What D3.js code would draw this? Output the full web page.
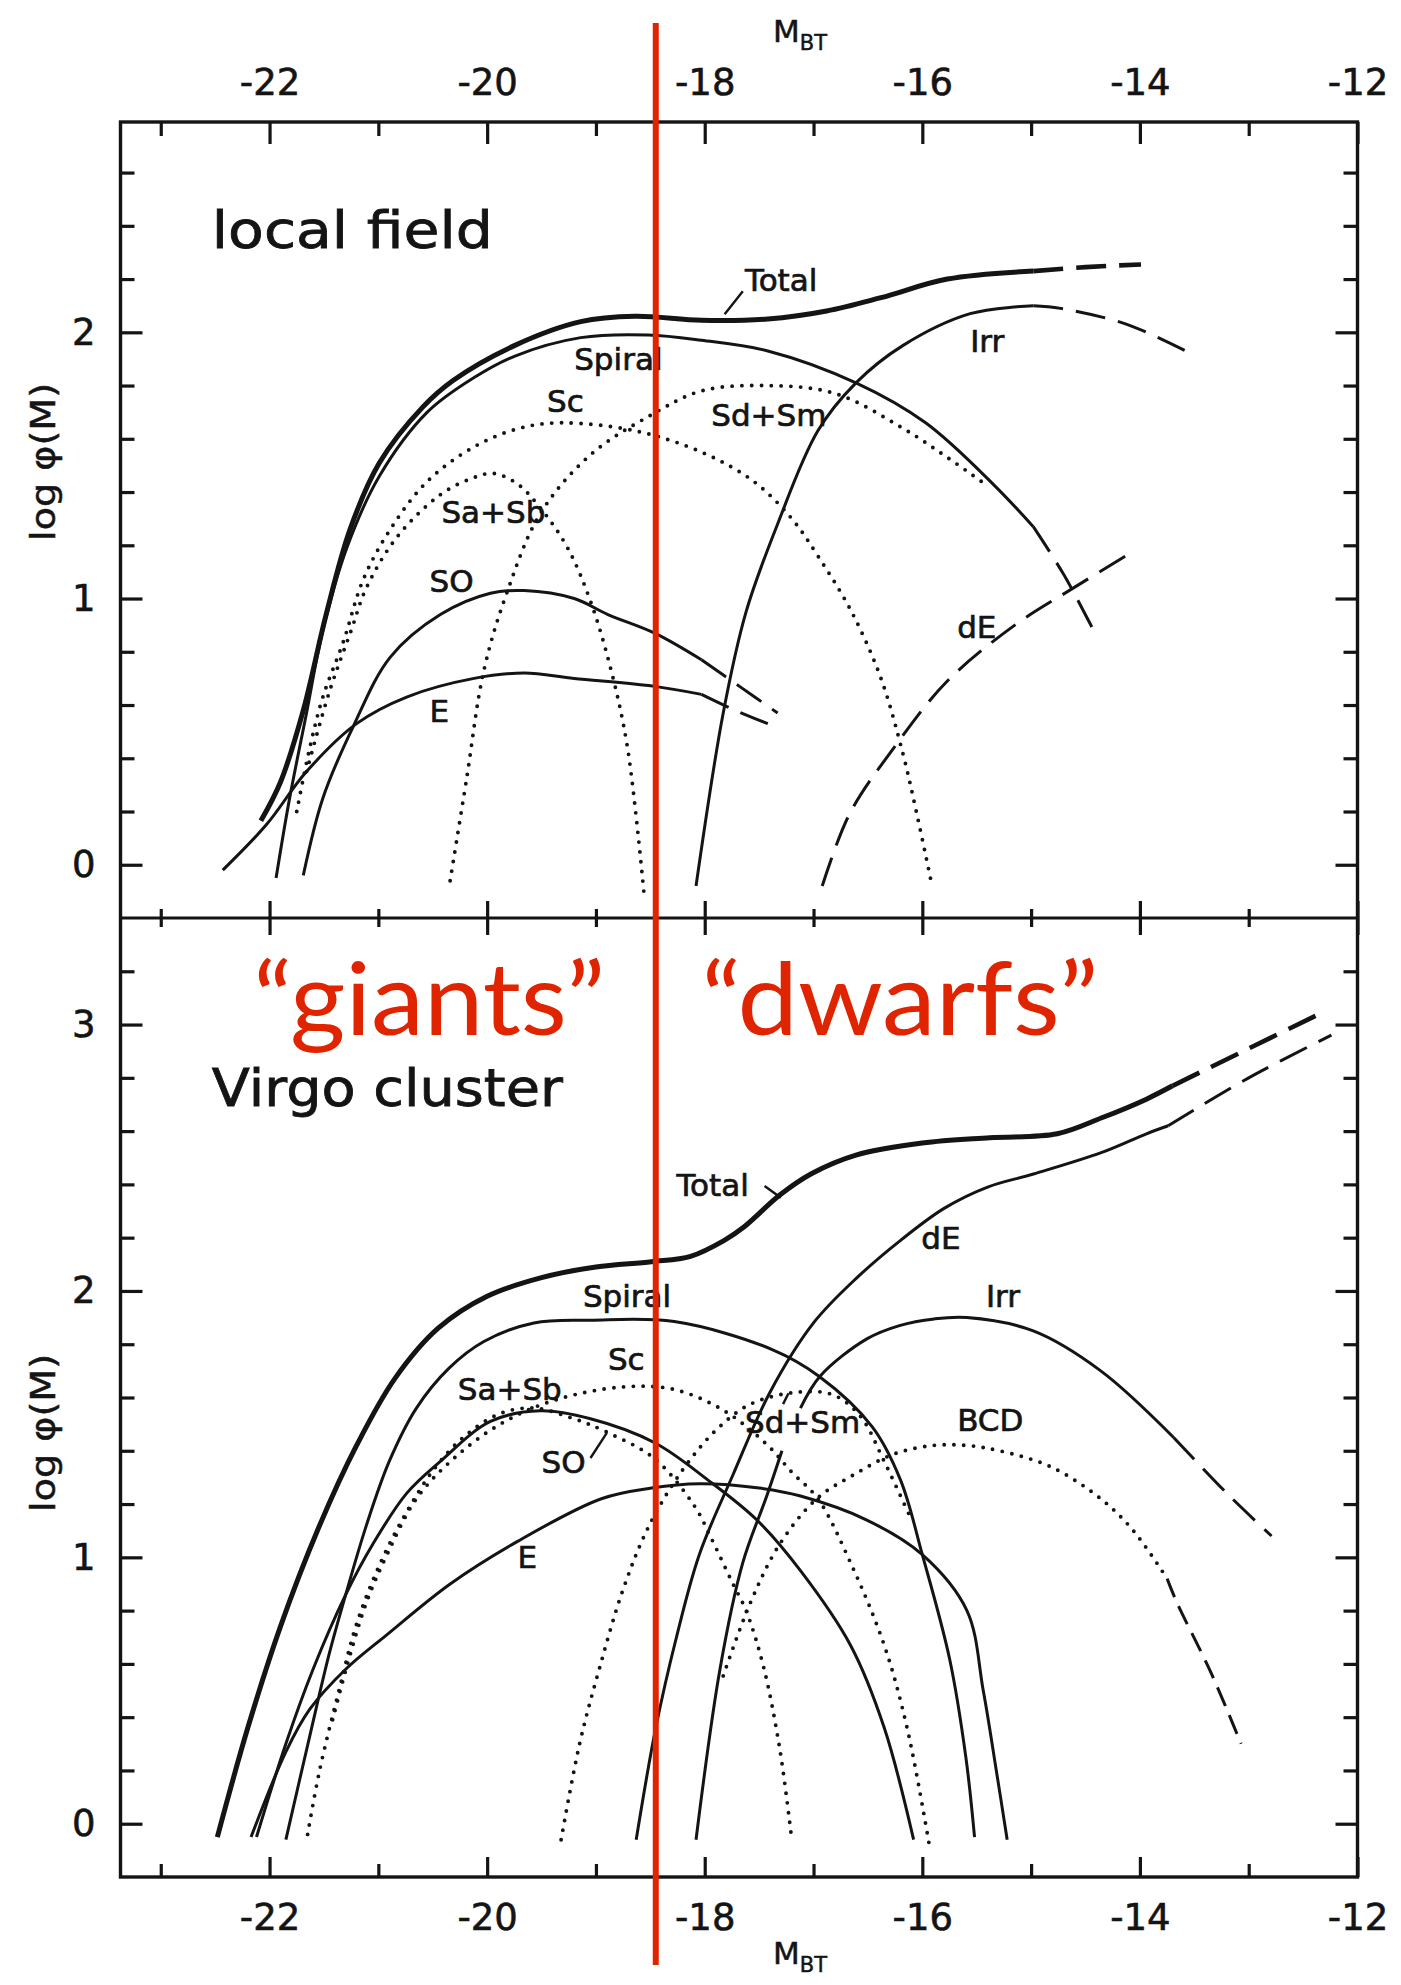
<!DOCTYPE html>
<html><head><meta charset="utf-8">
<script src="https://cdn.jsdelivr.net/npm/d3@7"></script>
<style>
html,body{margin:0;padding:0;background:#fff;}
svg{display:block;}
</style></head>
<body>
<svg id="chart" width="1401" height="1985"></svg>
<script>
// ---------------- DATA (M_BT, log phi) ----------------
const xTicksMajor = [-22, -20, -18, -16, -14, -12];
const xTicksMinor = [-23, -21, -19, -17, -15, -13];
const yTopMajor = [0, 1, 2];
const yTopMinor = [0.2, 0.4, 0.6, 0.8, 1.2, 1.4, 1.6, 1.8, 2.2, 2.4, 2.6];
const yBotMajor = [0, 1, 2, 3];
const yBotMinor = [0.2, 0.4, 0.6, 0.8, 1.2, 1.4, 1.6, 1.8, 2.2, 2.4, 2.6, 2.8, 3.2];

// local field
const fieldTotal = [[-22.08,0.165],[-21.90,0.31],[-21.69,0.58],[-21.48,0.94],[-21.26,1.26],[-20.99,1.51],[-20.59,1.72],[-20.31,1.82],[-19.75,1.95],[-19.14,2.04],[-18.64,2.06],[-18.03,2.045],[-17.42,2.05],[-16.88,2.08],[-16.38,2.13],[-15.77,2.20],[-14.98,2.23]];
const fieldTotalDash = [[-14.98,2.23],[-14.5,2.245],[-13.99,2.255]];
const fieldSpiral = [[-21.94,-0.05],[-21.82,0.24],[-21.66,0.57],[-21.51,0.88],[-21.29,1.19],[-20.99,1.46],[-20.55,1.70],[-20.12,1.83],[-19.75,1.91],[-19.14,1.98],[-18.52,1.99],[-18.03,1.97],[-17.42,1.93],[-16.61,1.81],[-15.97,1.66],[-15.35,1.43],[-14.98,1.27]];
const fieldSpiralDash = [[-14.98,1.27],[-14.70,1.09],[-14.40,0.86]];
const fieldSc = [[-21.75,0.20],[-21.63,0.44],[-21.51,0.63],[-21.32,0.84],[-21.14,1.07],[-20.89,1.26],[-20.55,1.44],[-20.12,1.57],[-19.70,1.64],[-19.32,1.66],[-18.64,1.63],[-18.03,1.55],[-17.55,1.44],[-17.20,1.30],[-16.96,1.16],[-16.65,0.95],[-16.38,0.70],[-16.18,0.42],[-16.05,0.19],[-15.91,-0.08]];
const fieldSaSb = [[-21.66,0.35],[-21.45,0.65],[-21.25,0.88],[-21.11,1.04],[-20.83,1.23],[-20.43,1.39],[-20.15,1.45],[-19.94,1.47],[-19.72,1.43],[-19.51,1.34],[-19.26,1.19],[-19.05,0.99],[-18.86,0.73],[-18.71,0.44],[-18.56,-0.10]];
const fieldSdSm = [[-20.34,-0.06],[-20.19,0.32],[-20.03,0.73],[-19.82,1.02],[-19.51,1.32],[-19.05,1.54],[-18.49,1.69],[-18.03,1.78],[-17.42,1.80],[-16.80,1.77],[-16.18,1.64],[-15.77,1.53],[-15.39,1.42]];
const fieldS0 = [[-21.69,-0.04],[-21.51,0.25],[-21.23,0.52],[-20.89,0.78],[-20.43,0.94],[-19.97,1.02],[-19.66,1.03],[-19.20,1.00],[-18.89,0.94],[-18.46,0.87],[-18.03,0.77]];
const fieldS0Dash = [[-18.03,0.77],[-17.68,0.67],[-17.33,0.57]];
const fieldE = [[-22.43,-0.02],[-22.03,0.15],[-21.66,0.35],[-21.20,0.53],[-20.74,0.63],[-20.12,0.70],[-19.66,0.72],[-19.20,0.70],[-18.46,0.67],[-18.03,0.64]];
const fieldEDash = [[-18.03,0.64],[-17.72,0.58],[-17.42,0.53]];
const fieldIrr = [[-18.08,-0.08],[-17.83,0.57],[-17.62,0.95],[-17.33,1.28],[-16.96,1.63],[-16.61,1.81],[-16.18,1.95],[-15.56,2.07],[-14.98,2.10]];
const fieldIrrDash = [[-14.98,2.10],[-14.73,2.09],[-14.12,2.03],[-13.58,1.93]];
const fielddE = [[-16.92,-0.08],[-16.67,0.19],[-16.26,0.44],[-15.77,0.69],[-15.15,0.90],[-14.61,1.04],[-14.05,1.18]];

// Virgo cluster
const virgoTotal = [[-22.48,-0.05],[-22.2,0.36],[-21.9,0.74],[-21.55,1.11],[-21.2,1.42],[-20.85,1.67],[-20.45,1.86],[-20.0,1.98],[-19.5,2.05],[-19.0,2.09],[-18.49,2.11],[-18.13,2.13],[-17.82,2.19],[-17.64,2.24],[-17.31,2.36],[-17.02,2.44],[-16.61,2.51],[-16.0,2.555],[-15.38,2.575],[-14.76,2.59],[-14.35,2.65],[-13.94,2.72],[-13.70,2.77]];
const virgoTotalDash = [[-13.70,2.77],[-13.0,2.91],[-12.30,3.05]];
const virgoSpiral = [[-21.85,-0.06],[-21.63,0.33],[-21.45,0.64],[-21.30,0.86],[-21.11,1.12],[-20.90,1.36],[-20.65,1.56],[-20.35,1.71],[-20.03,1.81],[-19.57,1.88],[-19.05,1.89],[-18.28,1.885],[-17.38,1.78],[-16.95,1.68],[-16.46,1.49],[-16.2,1.29],[-16.0,1.01],[-15.75,0.62],[-15.6,0.25],[-15.52,-0.05]];
const virgoS0 = [[-22.12,-0.05],[-21.85,0.30],[-21.60,0.58],[-21.30,0.86],[-21.05,1.05],[-20.74,1.24],[-20.43,1.36],[-19.97,1.51],[-19.51,1.55],[-19.05,1.52],[-18.46,1.43],[-17.97,1.29],[-17.52,1.14],[-17.12,0.95],[-16.66,0.67],[-16.35,0.36],[-16.08,-0.06]];
const virgoE = [[-22.17,-0.05],[-21.85,0.27],[-21.63,0.43],[-21.30,0.58],[-20.92,0.71],[-20.34,0.90],[-19.72,1.06],[-18.95,1.22],[-18.49,1.26],[-18.05,1.276],[-17.5,1.26],[-17.12,1.23],[-16.51,1.14],[-16.0,1.01],[-15.59,0.80],[-15.44,0.50],[-15.32,0.20],[-15.22,-0.06]];
const virgoSaSb = [[-21.65,-0.04],[-21.54,0.20],[-21.35,0.52],[-21.20,0.75],[-20.98,0.98],[-20.74,1.17],[-20.49,1.33],[-20.22,1.45],[-19.88,1.54],[-19.57,1.56],[-19.2,1.52],[-18.90,1.47],[-18.46,1.37],[-18.09,1.19],[-17.95,1.08],[-17.74,0.90],[-17.62,0.80],[-17.46,0.59],[-17.31,0.28],[-17.20,-0.06]];
const virgoSc = [[-21.42,0.39],[-21.29,0.59],[-21.11,0.83],[-20.92,1.01],[-20.65,1.22],[-20.31,1.37],[-19.88,1.50],[-19.38,1.59],[-18.74,1.64],[-18.28,1.63],[-17.82,1.55],[-17.42,1.42],[-17.20,1.32],[-16.96,1.22],[-16.66,0.98],[-16.35,0.67],[-16.14,0.36],[-15.94,-0.07]];
const virgoSdSm = [[-19.32,-0.06],[-19.15,0.30],[-18.97,0.58],[-18.75,0.88],[-18.51,1.12],[-18.2,1.33],[-17.89,1.48],[-17.58,1.575],[-17.15,1.62],[-16.82,1.61],[-16.57,1.53],[-16.35,1.36],[-16.11,1.15]];
const virgoIrrLow = [[-18.08,-0.06],[-17.86,0.58],[-17.65,0.98],[-17.43,1.23],[-17.29,1.40]];
const virgoIrr = [[-17.12,1.56],[-16.94,1.68],[-16.51,1.82],[-16.21,1.87],[-15.89,1.895],[-15.59,1.90],[-14.98,1.85],[-14.36,1.70],[-13.69,1.45]];
const virgoIrrDash = [[-13.69,1.45],[-13.2,1.24],[-12.79,1.08]];
const virgoBCD = [[-17.83,0.555],[-17.58,0.83],[-17.31,1.05],[-16.97,1.22],[-16.63,1.31],[-16.26,1.388],[-15.9,1.42],[-15.59,1.42],[-15.29,1.40],[-14.82,1.34],[-14.36,1.22],[-14.06,1.10],[-13.75,0.92]];
const virgoBCDDash = [[-13.75,0.92],[-13.66,0.83],[-13.35,0.57],[-13.07,0.30]];
const virgodE = [[-18.63,-0.06],[-18.45,0.36],[-18.26,0.70],[-18.05,1.01],[-17.74,1.31],[-17.4,1.62],[-17.0,1.88],[-16.6,2.05],[-16.2,2.19],[-15.8,2.31],[-15.4,2.39],[-14.97,2.44],[-14.35,2.52],[-13.94,2.59],[-13.74,2.62]];
const virgodEDash = [[-13.74,2.62],[-13.0,2.80],[-12.24,2.96]];

// curve labels: [text, M, log phi]
const fieldLabels = [["Total",-17.63,2.155],["Irr",-15.56,1.927],["Sd+Sm",-17.94,1.648],["dE",-15.68,0.852],["Spiral",-19.20,1.859],["Sc",-19.45,1.70],["Sa+Sb",-20.42,1.284],["SO",-20.53,1.025],["E",-20.53,0.536]];
const virgoLabels = [["Total",-18.26,2.356],["Spiral",-19.12,1.94],["Sc",-18.89,1.705],["Sa+Sb",-20.27,1.592],["SO",-19.50,1.317],["E",-19.72,0.96],["Sd+Sm",-17.63,1.466],["dE",-16.01,2.157],["Irr",-15.415,1.94],["BCD",-15.68,1.475]];
const fieldLeaders = [[[-17.817,2.068],[-17.65,2.154]]];
const virgoLeaders = [[[-17.45,2.394],[-17.30,2.35]],[[-19.05,1.373],[-18.90,1.467]],[[-17.28,1.575],[-17.23,1.616]]];
const panelTitles = ["local field", "Virgo cluster"];
const divideM = -18.45;
const regimeLabels = ["\u201Cgiants\u201D", "\u201Cdwarfs\u201D"];

// ---------------- DRAWING ----------------
const svg = d3.select("#chart");
const X0 = 120.5, X1 = 1357.5, YT = 122, YD = 918, YB = 1877;
const x = d3.scaleLinear().domain([-23.37, -12]).range([X0, X1]);
const yTop = d3.scaleLinear().domain([-0.2, 2.79]).range([YD, YT]);
const yBot = d3.scaleLinear().domain([-0.2, 3.4]).range([YB, YD]);
const INK = "#141414";
const RED = "#e12400";
const numFont = "'DejaVu Sans', 'Liberation Sans', sans-serif";

const styles = {
  solid:  {w: 3.0, dash: null, cap: "butt"},
  thick:  {w: 5.0, dash: null, cap: "butt"},
  dotted: {w: 3.9, dash: "0,9.8", cap: "round"},
  dashed: {w: 3.0, dash: "30,13", cap: "butt"},
  thickDashed: {w: 4.6, dash: "30,13", cap: "butt"},
  shortDashed: {w: 3.0, dash: "20,10", cap: "butt"}
};

function drawCurve(g, data, y, st) {
  const s = styles[st];
  const line = d3.line().x(d => x(d[0])).y(d => y(d[1])).curve(d3.curveCatmullRom.alpha(0.5));
  g.append("path").datum(data).attr("d", line)
    .attr("fill", "none").attr("stroke", INK)
    .attr("stroke-width", s.w).attr("stroke-linecap", s.cap)
    .attr("stroke-linejoin", "round")
    .attr("stroke-dasharray", s.dash);
}

// frame
svg.append("rect").attr("x", X0).attr("y", YT).attr("width", X1 - X0).attr("height", YB - YT)
  .attr("fill", "none").attr("stroke", INK).attr("stroke-width", 3.4);
svg.append("line").attr("x1", X0).attr("x2", X1).attr("y1", YD).attr("y2", YD)
  .attr("stroke", INK).attr("stroke-width", 3.2);

function styleAxis(g) {
  g.select(".domain").remove();
  g.selectAll(".tick line").attr("stroke", INK).attr("stroke-width", 3.2);
  g.selectAll(".tick text").attr("fill", INK).attr("font-family", numFont).attr("font-size", 37)
    .attr("stroke", INK).attr("stroke-width", 0.6);
}
const fmt = d => String(d);

// top x axis
svg.append("g").attr("transform", `translate(0,${YT})`)
  .call(d3.axisTop(x).tickValues(xTicksMajor).tickSize(-22).tickPadding(27).tickFormat(fmt)).call(styleAxis);
svg.append("g").attr("transform", `translate(0,${YT})`)
  .call(d3.axisTop(x).tickValues(xTicksMinor).tickSize(-14).tickFormat("")).call(styleAxis);
// bottom x axis
svg.append("g").attr("transform", `translate(0,${YB})`)
  .call(d3.axisBottom(x).tickValues(xTicksMajor).tickSize(-20).tickPadding(27).tickFormat(fmt)).call(styleAxis);
svg.append("g").attr("transform", `translate(0,${YB})`)
  .call(d3.axisBottom(x).tickValues(xTicksMinor).tickSize(-13).tickFormat("")).call(styleAxis);
// divider ticks (both directions)
[[xTicksMajor, 17], [xTicksMinor, 9]].forEach(([tv, len]) => {
  svg.append("g").attr("transform", `translate(0,${YD})`)
    .call(d3.axisTop(x).tickValues(tv).tickSize(len).tickFormat("")).call(styleAxis);
  svg.append("g").attr("transform", `translate(0,${YD})`)
    .call(d3.axisBottom(x).tickValues(tv).tickSize(len).tickFormat("")).call(styleAxis);
});
// y axes
[[yTop, yTopMajor, yTopMinor], [yBot, yBotMajor, yBotMinor]].forEach(([ys, maj, mnr]) => {
  svg.append("g").attr("transform", `translate(${X0},0)`)
    .call(d3.axisLeft(ys).tickValues(maj).tickSize(-22).tickPadding(25).tickFormat(fmt)).call(styleAxis);
  svg.append("g").attr("transform", `translate(${X0},0)`)
    .call(d3.axisLeft(ys).tickValues(mnr).tickSize(-14).tickFormat("")).call(styleAxis);
  svg.append("g").attr("transform", `translate(${X1},0)`)
    .call(d3.axisRight(ys).tickValues(maj).tickSize(-22).tickFormat("")).call(styleAxis);
  svg.append("g").attr("transform", `translate(${X1},0)`)
    .call(d3.axisRight(ys).tickValues(mnr).tickSize(-14).tickFormat("")).call(styleAxis);
});

// axis titles M_BT
function mbt(yBase) {
  const t = svg.append("text").attr("x", 773).attr("y", yBase).attr("fill", INK)
    .attr("font-family", numFont).attr("font-size", 31).attr("stroke", INK).attr("stroke-width", 0.5);
  t.append("tspan").text("M");
  t.append("tspan").attr("font-size", 21).attr("dy", 8).text("BT");
}
mbt(42);
mbt(1964);
// y titles
[[yTop, 1.513], [yBot, 1.467]].forEach(([ys, v]) => {
  svg.append("text").attr("transform", `translate(${X0 - 66},${ys(v)}) rotate(-90)`)
    .attr("text-anchor", "middle").attr("fill", INK)
    .attr("font-family", numFont).attr("font-size", 34)
    .attr("stroke", INK).attr("stroke-width", 0.5)
    .attr("textLength", 158).attr("lengthAdjust", "spacingAndGlyphs")
    .text("log \u03C6(M)");
});

// curves
const gTop = svg.append("g");
const gBot = svg.append("g");
[[fieldTotal,"thick"],[fieldTotalDash,"thickDashed"],[fieldSpiral,"solid"],[fieldSpiralDash,"dashed"],
 [fieldSc,"dotted"],[fieldSaSb,"dotted"],[fieldSdSm,"dotted"],[fieldS0,"solid"],[fieldS0Dash,"dashed"],
 [fieldE,"solid"],[fieldEDash,"dashed"],[fieldIrr,"solid"],[fieldIrrDash,"dashed"],[fielddE,"dashed"]]
 .forEach(([d, s]) => drawCurve(gTop, d, yTop, s));
[[virgoTotal,"thick"],[virgoTotalDash,"thickDashed"],[virgoSpiral,"solid"],[virgoS0,"solid"],[virgoE,"solid"],
 [virgoSaSb,"dotted"],[virgoSc,"dotted"],[virgoSdSm,"dotted"],[virgoIrrLow,"solid"],[virgoIrr,"solid"],
 [virgoIrrDash,"dashed"],[virgoBCD,"dotted"],[virgoBCDDash,"shortDashed"],[virgodE,"solid"],[virgodEDash,"dashed"]]
 .forEach(([d, s]) => drawCurve(gBot, d, yBot, s));

// labels
function labels(g, arr, ys) {
  g.selectAll(null).data(arr).enter().append("text")
    .attr("x", d => x(d[1])).attr("y", d => ys(d[2]))
    .attr("fill", INK).attr("font-family", numFont).attr("font-size", 31)
    .attr("stroke", INK).attr("stroke-width", 0.7)
    .text(d => d[0]);
}
labels(gTop, fieldLabels, yTop);
labels(gBot, virgoLabels, yBot);
function leaders(g, arr, ys) {
  arr.forEach(seg => g.append("line")
    .attr("x1", x(seg[0][0])).attr("y1", ys(seg[0][1]))
    .attr("x2", x(seg[1][0])).attr("y2", ys(seg[1][1]))
    .attr("stroke", INK).attr("stroke-width", 2.4));
}
leaders(gTop, fieldLeaders, yTop);
leaders(gBot, virgoLeaders, yBot);

// panel titles
svg.append("text").attr("x", x(-22.53)).attr("y", yTop(2.317)).attr("fill", INK)
  .attr("font-family", numFont).attr("font-size", 52).attr("stroke", INK).attr("stroke-width", 0.8)
  .attr("textLength", 281).attr("lengthAdjust", "spacingAndGlyphs").text(panelTitles[0]);
svg.append("text").attr("x", x(-22.53)).attr("y", yBot(2.694)).attr("fill", INK)
  .attr("font-family", numFont).attr("font-size", 52).attr("stroke", INK).attr("stroke-width", 0.8)
  .attr("textLength", 351).attr("lengthAdjust", "spacingAndGlyphs").text(panelTitles[1]);

// red divider and regime labels
svg.append("line").attr("x1", x(divideM)).attr("x2", x(divideM)).attr("y1", 23).attr("y2", 1965)
  .attr("stroke", RED).attr("stroke-width", 6);
const redFont = "'Gill Sans', Lato, 'Open Sans', sans-serif";
svg.append("text").attr("x", x(-22.15)).attr("y", yBot(2.961)).attr("fill", RED)
  .attr("font-family", redFont).attr("font-size", 100)
  .attr("textLength", 352).attr("lengthAdjust", "spacingAndGlyphs").text(regimeLabels[0]);
svg.append("text").attr("x", x(-18.03)).attr("y", yBot(2.961)).attr("fill", RED)
  .attr("font-family", redFont).attr("font-size", 100)
  .attr("textLength", 397).attr("lengthAdjust", "spacingAndGlyphs").text(regimeLabels[1]);
</script>
</body></html>
